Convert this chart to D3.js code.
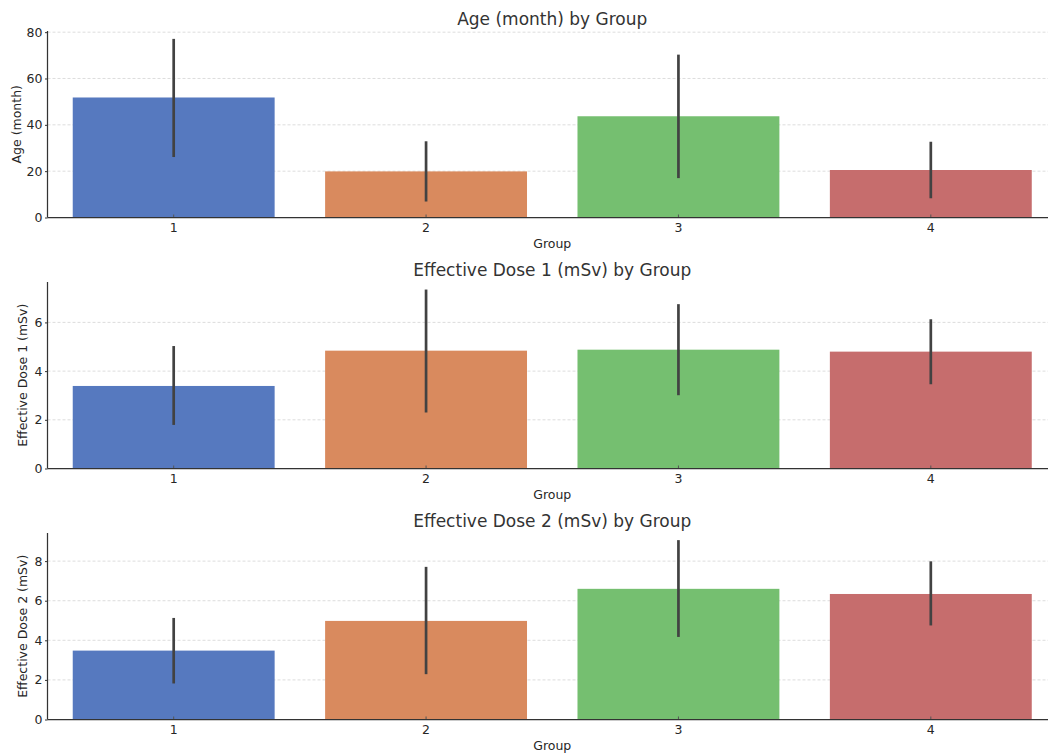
<!DOCTYPE html>
<html>
<head>
<meta charset="utf-8">
<script src="https://cdn.jsdelivr.net/npm/d3@7"></script>
<style>
  html, body { margin: 0; padding: 0; background: #ffffff; }
  svg { display: block; font-family: "DejaVu Sans", sans-serif; }
</style>
</head>
<body>
<svg id="chart" width="1048" height="755"></svg>
<script>
// ---- Data ----
const groups = ["1", "2", "3", "4"];

const ageMean = [51.8, 19.9, 43.7, 20.5];
const ageLow  = [26.1, 6.9, 17.0, 8.3];
const ageHigh = [77.1, 32.9, 70.3, 32.7];

const dose1Mean = [3.39, 4.84, 4.88, 4.80];
const dose1Low  = [1.79, 2.30, 3.01, 3.46];
const dose1High = [5.03, 7.35, 6.75, 6.13];

const dose2Mean = [3.48, 4.98, 6.60, 6.34];
const dose2Low  = [1.82, 2.29, 4.17, 4.75];
const dose2High = [5.13, 7.71, 9.06, 7.99];

const ageTicks   = [0, 20, 40, 60, 80];
const dose1Ticks = [0, 2, 4, 6];
const dose2Ticks = [0, 2, 4, 6, 8];

const panelTitles = ["Age (month) by Group", "Effective Dose 1 (mSv) by Group", "Effective Dose 2 (mSv) by Group"];
const yLabels = ["Age (month)", "Effective Dose 1 (mSv)", "Effective Dose 2 (mSv)"];
const xLabel = "Group";
const yMax = [80.5, 7.66, 9.42];

const colors = ["#5679bf", "#d98a5e", "#75bf70", "#c66d6d"];

// ---- Panels built from the arrays ----
const panels = [
  { mean: ageMean, low: ageLow, high: ageHigh, ticks: ageTicks },
  { mean: dose1Mean, low: dose1Low, high: dose1High, ticks: dose1Ticks },
  { mean: dose2Mean, low: dose2Low, high: dose2High, ticks: dose2Ticks }
];

const svg = d3.select("#chart");
const W = 1048;
const left = 47.5, rightEnd = 1057;
const panelTop0 = 31, panelStep = 251, panelH = 186.5;
const textColor = "#262626";

const x = d3.scaleBand().domain(groups).range([left, rightEnd]).paddingInner(0.2).paddingOuter(0.1);

panels.forEach((p, i) => {
  const top = panelTop0 + i * panelStep;
  const bottom = top + panelH;
  const y = d3.scaleLinear().domain([0, yMax[i]]).range([bottom, top]);
  const g = svg.append("g");

  // grid lines
  g.selectAll("line.grid").data(p.ticks.filter(t => t > 0)).join("line")
    .attr("class", "grid")
    .attr("x1", left).attr("x2", W)
    .attr("y1", d => y(d)).attr("y2", d => y(d))
    .attr("stroke", "#d4d4d4").attr("stroke-width", 0.8)
    .attr("stroke-dasharray", "3,2");

  // bars
  g.selectAll("rect.bar").data(groups).join("rect")
    .attr("class", "bar")
    .attr("x", d => x(d))
    .attr("width", x.bandwidth())
    .attr("y", (d, k) => y(p.mean[k]))
    .attr("height", (d, k) => y(0) - y(p.mean[k]))
    .attr("fill", (d, k) => colors[k]);

  // error bars
  g.selectAll("line.err").data(groups).join("line")
    .attr("class", "err")
    .attr("x1", d => x(d) + x.bandwidth() / 2)
    .attr("x2", d => x(d) + x.bandwidth() / 2)
    .attr("y1", (d, k) => y(p.low[k]))
    .attr("y2", (d, k) => y(p.high[k]))
    .attr("stroke", "#424242").attr("stroke-width", 2.7);

  // y axis
  const yAxis = g.append("g").attr("transform", `translate(${left},0)`)
    .call(d3.axisLeft(y).tickValues(p.ticks).tickFormat(d3.format("d")).tickSize(2.5).tickPadding(2.5));
  yAxis.select(".domain").remove();
  yAxis.selectAll(".tick line").attr("stroke", "#333");
  yAxis.selectAll(".tick text").attr("fill", textColor).style("font-size", "12.5px").style("font-family", "DejaVu Sans");

  // x axis
  const xAxis = g.append("g").attr("transform", `translate(0,${bottom})`)
    .call(d3.axisBottom(x).tickSizeInner(-3).tickSizeOuter(0).tickPadding(6));
  xAxis.select(".domain").remove();
  xAxis.selectAll(".tick line").attr("stroke", "#555");
  xAxis.selectAll(".tick text").attr("fill", textColor).style("font-size", "12.5px").style("font-family", "DejaVu Sans");

  // spines
  g.append("line").attr("x1", left).attr("x2", left).attr("y1", top).attr("y2", bottom)
    .attr("stroke", "#333").attr("stroke-width", 1.25);
  g.append("line").attr("x1", left).attr("x2", W).attr("y1", bottom).attr("y2", bottom)
    .attr("stroke", "#333").attr("stroke-width", 1.25);

  // title
  g.append("text").attr("x", (left + rightEnd) / 2).attr("y", top - 6)
    .attr("text-anchor", "middle").attr("fill", "#333")
    .style("font-size", "17px").text(panelTitles[i]);

  // x label
  g.append("text").attr("x", (left + rightEnd) / 2).attr("y", bottom + 30.5)
    .attr("text-anchor", "middle").attr("fill", textColor)
    .style("font-size", "12.5px").text(xLabel);

  // y label
  const ylx = i === 0 ? 20.5 : 27;
  g.append("text")
    .attr("transform", `translate(${ylx},${(top + bottom) / 2}) rotate(-90)`)
    .attr("text-anchor", "middle").attr("fill", textColor)
    .style("font-size", "12.5px").text(yLabels[i]);
});
</script>
</body>
</html>
